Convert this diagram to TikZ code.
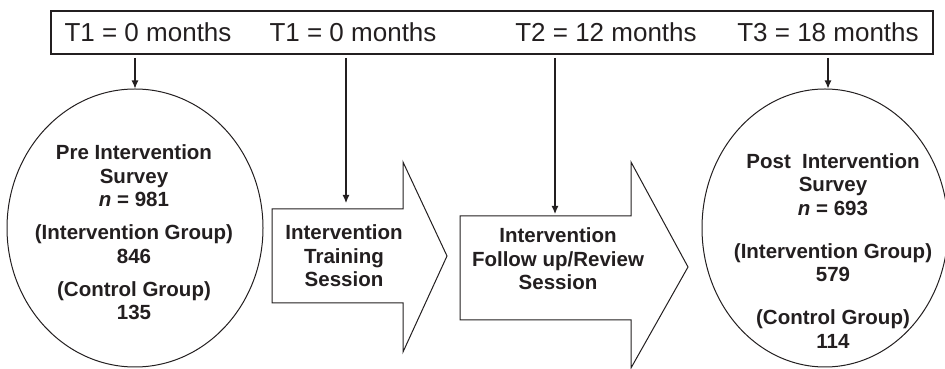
\documentclass[tikz,border=0pt]{standalone}
\usepackage{fontspec}
\setmainfont{Liberation Sans}
\usepackage{xcolor}
\usetikzlibrary{calc,positioning,shapes.geometric,arrows.meta}
\definecolor{color_text_default}{HTML}{231f20}
\definecolor{color_line_default}{HTML}{231f20}

\tikzset{
	timelabel/.style={text=color_text_default,inner sep=0,font=\fontsize{26}{30}\selectfont},
	boxtext/.style={text=color_text_default,inner sep=0,align=center,font=\fontsize{20.5}{23.5}\selectfont\bfseries},
	survey/.style={ellipse,draw=color_line_default,line width=1pt,inner sep=0},
	timearrow/.style={draw=color_line_default,line width=1.1pt,-{Latex[length=8pt,width=7pt]}}
}

\begin{document}
\begin{tikzpicture}[x=1pt,y=1pt]
				\useasboundingbox (0, 0) rectangle (945, 369);
				% Points
				\coordinate (BTL) at (51, 358);
				\coordinate (BBR) at (933, 315);
		
				\coordinate (SA) at (135, 311);
				\coordinate (SB) at (346, 311);
				\coordinate (SC) at (555, 311);
				\coordinate (SD) at (828, 311);
		
				\coordinate (TrainTop) at (346, 160);
				\coordinate (ReviewTop) at (555, 153);
		
				% Time line
				\draw[color_line_default,line width=1.2pt] (BTL) rectangle (BBR);
				\node[timelabel] (timeA) at (148, 336.5) {T1 = 0 months};
				\node[timelabel] (timeB) at (353, 336.5) {T1 = 0 months};
				\node[timelabel] (timeC) at (606, 336.5) {T2 = 12 months};
				\node[timelabel] (timeD) at (828, 336.5) {T3 = 18 months};
				
				% Surveys
				\node[survey,minimum width=256,minimum height=278] (pre) at (135, 141) {};
				\node[boxtext] (preText) at (134, 136.5)
					{Pre Intervention\\Survey\\\textit{n} = 981\\[9.5pt]%
					(Intervention Group)\\846\\[9.5pt]%
					(Control Group)\\135};
				\node[survey,minimum width=246,minimum height=278] (post) at (825, 141) {};
				\node[boxtext] (postText) at (833, 118)
					{Post\ \ Intervention\\Survey\\\textit{n} = 693\\[19.5pt]%
					(Intervention Group)\\579\\[19.5pt]%
					(Control Group)\\114};
				
				% Sessions
				\draw[color_line_default,line width=1pt,fill=white]
				(272, 160) --
				(403, 160) --
				(403, 207) --
				(447, 113) --
				(403, 17) --
				(403, 66) --
				(272, 66) --
				cycle;
				\node[boxtext] (train) at (344, 113) {Intervention\\Training\\Session};
				\draw[color_line_default,line width=1pt,fill=white]
				(460, 153) --
				(631, 153) --
				(631, 207) --
				(688, 102) --
				(631, 1) --
				(631, 49) --
				(460, 49) --
				cycle;
				\node[boxtext] (review) at (558, 110) {Intervention\\Follow up/Review\\Session};
				
				% Arrows
				\draw[timearrow] (SA) -- (pre.north);
				\draw[timearrow,shorten >=6pt] (SB) -- (TrainTop);
				\draw[timearrow,shorten >=2pt] (SC) -- (ReviewTop);
				\draw[timearrow] (SD) -- (post.north -| SD);
			\end{tikzpicture}
\end{document}
